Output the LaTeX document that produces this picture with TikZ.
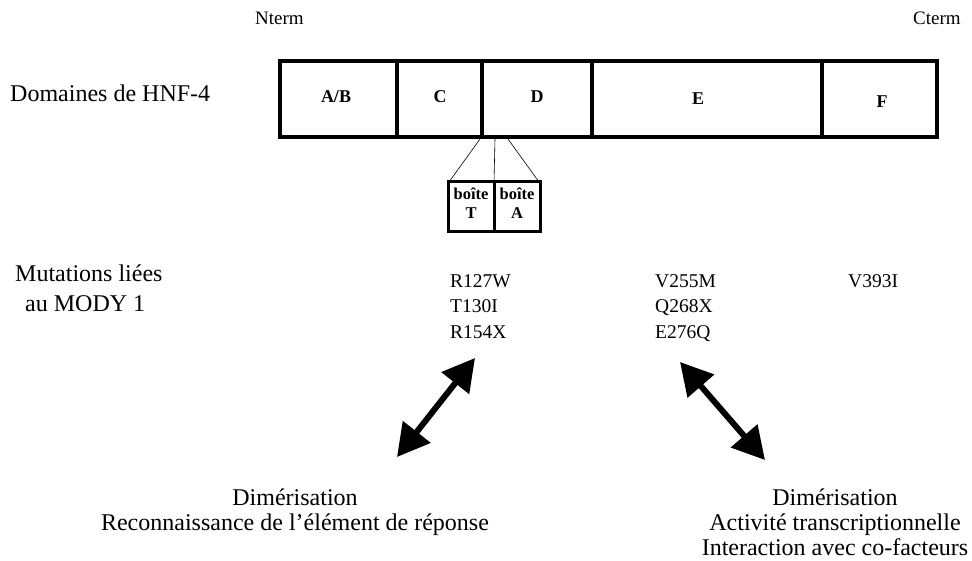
\documentclass[tikz,border=0pt]{standalone}
\usepackage{fontspec}
\setmainfont{Liberation Serif}
\usetikzlibrary{arrows.meta}
\begin{document}
\begin{tikzpicture}[x=1pt,y=-1pt,
  lbl/.style={inner sep=0pt,font=\fontsize{24}{28}\selectfont},
  mut/.style={inner sep=0pt,anchor=base west,font=\fontsize{19.5}{22}\selectfont},
  dom/.style={inner sep=0pt,font=\fontsize{18}{20}\selectfont\bfseries},
  term/.style={inner sep=0pt,anchor=base west,font=\fontsize{19}{22}\selectfont},
  boite/.style={inner sep=0pt,align=center,font=\fontsize{16.5}{19}\selectfont\bfseries},
  boxline/.style={line width=4.5pt},
  thin/.style={line width=0.6pt},
  bigarrow/.style={line width=6pt,{Triangle[length=32pt,width=34pt]}-{Triangle[length=32pt,width=34pt]}}
]
\useasboundingbox (0,0) rectangle (972,561);
% terminals
\node[term] (nt) at (255,25) {Nterm};
\node[term] (ct) at (913,25) {Cterm};
% domain bar
\coordinate (b1) at (280,61);
\coordinate (b2) at (937,137);
\draw[boxline] (b1) rectangle (b2);
\foreach \xx in {397,482,592,822} \draw[boxline] (\xx,61) -- (\xx,137);
\node[dom] (ab) at (336,97) {A/B};
\node[dom] (c) at (440,97) {C};
\node[dom] (d) at (537,97) {D};
\node[dom] (e) at (698,99) {E};
\node[dom] (f) at (882,102) {F};
\node[lbl,anchor=base west] (dom) at (10,102) {Domaines de HNF-4};
% boites
\draw[line width=3pt] (448,182) rectangle (540,232);
\draw[line width=3pt] (494,182) -- (494,232);
\coordinate (t1) at (480,139);
\coordinate (t2) at (495,139);
\coordinate (t3) at (508,139);
\coordinate (u1) at (449,182);
\coordinate (u2) at (494,182);
\coordinate (u3) at (539,182);
\draw[thin] (t1) -- (u1);
\draw[thin] (t2) -- (u2);
\draw[thin] (t3) -- (u3);
\node[boite,anchor=north] (bt) at (471,188) {boîte\\T};
\node[boite,anchor=north] (ba) at (517,188) {boîte\\A};
% mutations
\node[lbl,anchor=base west] (m1) at (15,282) {Mutations liées};
\node[lbl,anchor=base west] (m2) at (25,312) {au MODY 1};
\node[mut] (r127) at (450,288) {R127W};
\node[mut] (t130) at (450,313) {T130I};
\node[mut] (r154) at (450,338) {R154X};
\node[mut] (v255) at (655,288) {V255M};
\node[mut] (q268) at (655,313) {Q268X};
\node[mut] (e276) at (655,338) {E276Q};
\node[mut] (v393) at (848,288) {V393I};
% arrows
\coordinate (a1) at (397,457);
\coordinate (a2) at (475,358);
\coordinate (a3) at (680,362);
\coordinate (a4) at (765,460);
\draw[bigarrow] (a1) -- (a2);
\draw[bigarrow] (a3) -- (a4);
% bottom texts
\node[lbl,anchor=base] (l1) at (295,505) {Dimérisation};
\node[lbl,anchor=base] (l2) at (295,530) {Reconnaissance de l'élément de réponse};
\node[lbl,anchor=base] (r1) at (835,505) {Dimérisation};
\node[lbl,anchor=base] (r2) at (835,530) {Activité transcriptionnelle};
\node[lbl,anchor=base] (r3) at (835,555) {Interaction avec co-facteurs};
\end{tikzpicture}
\end{document}
